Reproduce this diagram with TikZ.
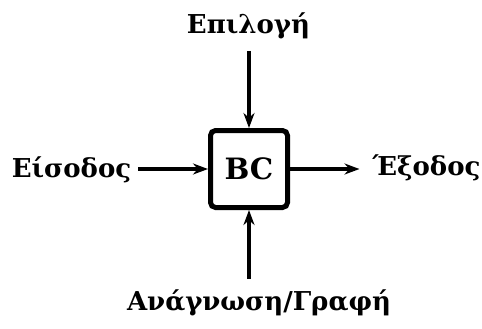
\documentclass[tikz,border=0pt]{standalone}
\usepackage{fontspec}
\setmainfont{DejaVu Serif}
\usetikzlibrary{arrows.meta}
\tikzset{
    flow/.style={line width=1.8pt,-{Stealth[length=7.5pt,width=5.5pt]}},
    lbl/.style={font=\bfseries\fontsize{13}{15}\selectfont,anchor=base}
}
\begin{document}
\begin{tikzpicture}[x=0.5pt,y=-0.5pt]
        \useasboundingbox (0,0) rectangle (482,328);
        \node[draw,line width=2.5pt,rounded corners=2.5pt,minimum width=38.5pt,minimum height=38.5pt,
              font=\bfseries\fontsize{14.7}{16}\selectfont] (bc) at (249,169) {BC};
        \node[lbl] (sel) at (248.5,33) {Επιλογή};
        \node[lbl] (in) at (71.5,177) {Είσοδος};
        \node[lbl] (out) at (426.5,175) {Έξοδος};
        \node[lbl] (rw) at (259,310) {Ανάγνωση/Γραφή};
        \draw[flow,shorten <=2.7pt] (sel.south -| bc.north) -- (bc.north);
        \draw[flow] (in.east |- bc.west) -- (bc.west);
        \draw[flow,shorten >=3pt] (bc.east) -- (out.west |- bc.east);
        \draw[flow,shorten <=1.7pt] (rw.north -| bc.south) -- (bc.south);
    \end{tikzpicture}
\end{document}
